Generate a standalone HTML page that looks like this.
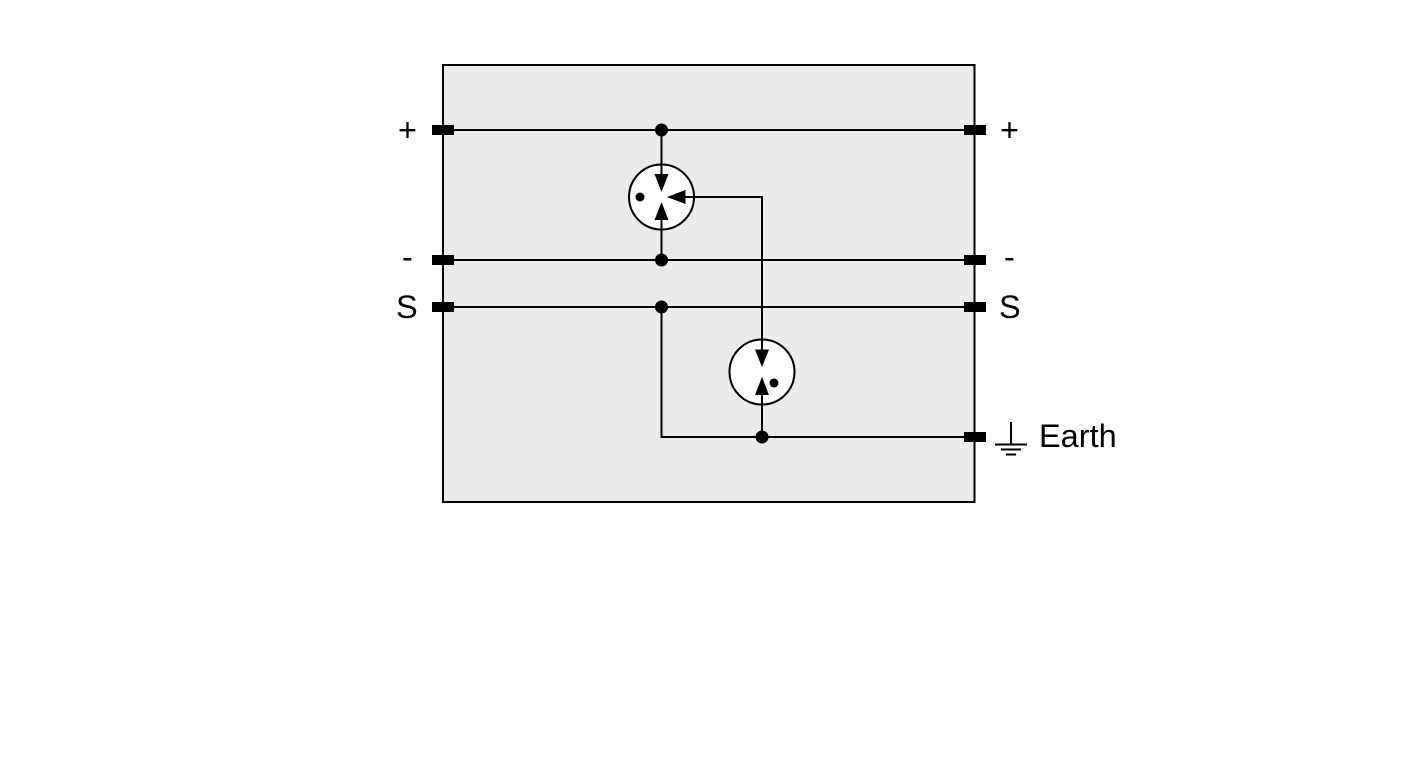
<!DOCTYPE html>
<html>
<head>
<meta charset="utf-8">
<style>
html,body{margin:0;padding:0;background:#fff;width:1418px;height:780px;overflow:hidden}
svg{display:block}
text{font-family:"Liberation Sans",Arial,sans-serif;font-size:32.5px;fill:#000}
</style>
</head>
<body>
<svg width="1418" height="780" viewBox="0 0 1418 780" xmlns="http://www.w3.org/2000/svg">
<rect x="443" y="65" width="531.5" height="437" fill="#ebebeb" stroke="#000" stroke-width="2"/>
<g stroke="#000" stroke-width="2" fill="none">
<path d="M443 130H975M443 260H975M443 307H975"/>
<path d="M661.5 307V437H975"/>
</g>
<circle cx="661.5" cy="197" r="32.5" fill="#fff" stroke="#000" stroke-width="2"/>
<circle cx="762" cy="372" r="32.5" fill="#fff" stroke="#000" stroke-width="2"/>
<g stroke="#000" stroke-width="2" fill="none">
<path d="M661.5 130V180M661.5 260V215"/>
<path d="M680 197H762V355M762 437V390"/>
</g>
<g fill="#000">
<path d="M654.5 174H668.5L661.5 192Z"/>
<path d="M654.5 220H668.5L661.5 202Z"/>
<path d="M685.5 190V204L667 197Z"/>
<path d="M755 349.500H769L762 367Z"/>
<path d="M755 395H769L762 377Z"/>
<circle cx="640" cy="197" r="4.500"/>
<circle cx="774" cy="383" r="4.500"/>
<circle cx="661.500" cy="130" r="6.500"/>
<circle cx="661.500" cy="260" r="6.500"/>
<circle cx="661.500" cy="307" r="6.500"/>
<circle cx="762" cy="437" r="6.500"/>
<rect x="432" y="125" width="22" height="10"/>
<rect x="432" y="255" width="22" height="10"/>
<rect x="432" y="302" width="22" height="10"/>
<rect x="964" y="125" width="22" height="10"/>
<rect x="964" y="255" width="22" height="10"/>
<rect x="964" y="302" width="22" height="10"/>
<rect x="964" y="432" width="22" height="10"/>
</g>
<g stroke="#000" stroke-width="2" fill="none">
<path d="M1011 422V444M995 444.500H1027M1001 449.500H1021M1006 454.500H1016"/>
</g>
<text x="398" y="141">+</text>
<text x="402" y="268">-</text>
<text x="396" y="318">S</text>
<text x="1000" y="141">+</text>
<text x="1004" y="268">-</text>
<text x="999" y="318">S</text>
<text x="1039" y="447">Earth</text>
</svg>
</body>
</html>
